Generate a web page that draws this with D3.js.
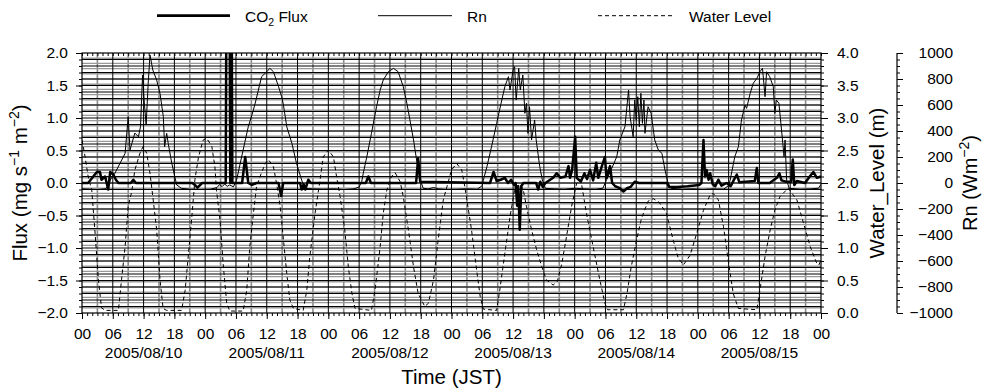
<!DOCTYPE html>
<html lang="en">
<head>
<meta charset="UTF-8">
<title>CO2 Flux, Rn and Water Level</title>
<script src="https://d3js.org/d3.v7.min.js"></script>
<style>
  body { margin: 0; background: #fff; }
  text { font-family: "Liberation Sans", Arial, Helvetica, sans-serif; fill: #000; }
</style>
</head>
<body>
<svg id="chart" width="983" height="390"></svg>
<script>
// hours since 2005/08/10 00:00 JST
const dates = ["2005/08/10", "2005/08/11", "2005/08/12", "2005/08/13", "2005/08/14", "2005/08/15"];
const fluxTicks = [-2, -1.5, -1, -0.5, 0, 0.5, 1, 1.5, 2];
const waterTicks = [0, 0.5, 1, 1.5, 2, 2.5, 3, 3.5, 4];
const rnTicks = [-1000, -800, -600, -400, -200, 0, 200, 400, 600, 800, 1000];

// CO2 flux (mg s-1 m-2)
const flux = [
  [0,0],[1.2,0],[2.2,0.1],[2.9,0.17],[3.5,0.17],[3.8,0.05],[4.5,0.1],[4.9,-0.03],[5.1,-0.1],[5.5,0.17],
  [6.1,0.13],[6.6,0.05],[7.1,0],[9.5,0],[10,0.05],[10.5,0],[21.5,0],[22,-0.03],[22.5,-0.07],[23.4,0],
  [28.0,0],[28.3,6],[28.6,6],[28.9,0],[29.1,4],[29.3,0],[31.2,0],[31.8,0.4],[32.4,0],[33.1,-0.03],
  [34,0],[38.3,0],[38.8,-0.2],[39.2,0],[42.5,0],[42.8,-0.1],[43.2,-0.02],[43.5,-0.1],[44.1,0.05],[44.6,0],
  [55.3,0],[55.8,0.1],[56.3,0],[65.1,0],[65.5,0.38],[65.9,0.02],[79.5,0],[80.2,0.17],[80.8,0.03],[81.6,0.05],
  [82.4,0.08],[83,0],[83.6,0.05],[84.2,-0.03],[84.5,0],[84.8,-0.35],[85.0,-0.05],[85.3,-0.72],[85.6,-0.05],[86,0],
  [88.5,0],[88.9,-0.1],[89.3,0.02],[89.8,-0.06],[90.3,0],[91.8,0.08],[92.5,0.15],[93.2,0.08],[94.2,0.1],[94.8,0.26],
  [95.1,0.08],[95.5,0.2],[96.1,0.71],[96.4,0.08],[97.2,0.02],[97.9,0.15],[98.4,0.06],[99,0.2],[99.6,0.04],[100.2,0.31],
  [100.6,0.08],[101.3,0.26],[101.9,0.4],[102.2,0.08],[102.9,0.26],[103.3,0],[103.9,-0.05],[104.8,-0.08],[105.5,-0.13],[106.2,-0.08],
  [106.9,-0.06],[107.7,0.02],[108.5,0],[114.0,0],[114.4,-0.06],[116,-0.06],[118,-0.05],[120.3,-0.03],[120.7,0],[121.1,0.66],
  [121.4,0.1],[121.7,0.2],[122.1,0.05],[122.4,0.15],[122.9,-0.02],[123.4,-0.05],[124,0.05],[124.6,-0.04],[125.6,0],[126.4,-0.05],
  [127.1,0.06],[127.6,0.13],[128.1,0.01],[131.1,0.03],[131.5,0.23],[131.8,0],[134,0],[135.4,0.08],[135.9,0.15],[136.3,0.04],
  [137.2,0.02],[138.2,0.02],[138.5,0.36],[138.8,-0.03],[139.3,0.03],[140.9,0],[141.8,0.1],[142.5,0.17],[143.2,0.08],[144,0.1]
];

// net radiation Rn (W m-2)
const rn = [
  [0,-45],[1.5,-48],[3,-50],[4.5,-45],[5.2,-20],[5.5,23],[6.4,74],[7.4,151],[8.4,228],[9.0,510],
  [9.35,254],[10.3,384],[11.0,356],[11.4,433],[11.8,830],[12.1,638],[12.5,446],[12.9,767],[13.25,985],[13.8,869],
  [14.55,792],[15.2,690],[15.85,510],[16.1,279],[16.5,382],[16.8,305],[17.5,151],[18.45,-15],[19.4,-41],[21,-48],
  [23,-50],[25,-48],[26.3,-35],[26.8,-12],[27.3,-28],[27.8,-8],[28.3,-25],[28.8,-15],[29.5,-30],[30.1,20],
  [31.4,254],[32.4,433],[33.4,562],[33.9,638],[35,818],[36,856],[36.6,882],[37.3,856],[38.3,741],[38.9,664],
  [39.2,613],[39.9,433],[40.9,305],[41.8,151],[42.8,23],[43.4,-41],[45,-45],[47,-48],[49,-45],[51,-50],
  [53,-45],[54.0,-30],[54.5,10],[54.8,74],[55.5,202],[56.4,382],[57.4,587],[58.1,715],[58.7,792],[59.7,856],
  [60.7,882],[61.6,856],[62.6,741],[63.3,613],[63.9,485],[64.6,331],[65.2,177],[65.9,23],[66.5,-41],[67.5,-45],
  [68.5,-35],[69.5,-45],[71,-50],[73,-48],[75,-45],[77,-48],[78.0,-20],[78.2,20],[78.9,125],[79.8,279],
  [80.8,459],[81.8,638],[82.4,741],[83.1,818],[83.4,715],[84.0,869],[84.3,895],[84.6,638],[85.1,882],[85.4,715],
  [85.9,831],[86.3,536],[86.6,613],[86.9,382],[87.2,587],[87.6,331],[88.2,485],[88.5,331],[89.2,125],[89.7,23],
  [90.3,-41],[92,-45],[94,-48],[96,-40],[98,-45],[100,-48],[101.5,-40],[102.2,23],[103.2,110],[104.2,202],
  [104.8,331],[105.8,433],[106.5,715],[106.8,510],[107.4,356],[107.7,638],[108.0,485],[108.3,664],[108.6,433],[108.9,690],
  [109.2,459],[109.5,638],[109.7,382],[110.3,587],[110.9,536],[111.6,331],[112.3,254],[113.0,228],[113.6,100],[114.2,0],
  [114.8,-41],[117,-48],[119,-45],[121,-50],[123,-45],[125,-48],[126,-20],[126.3,23],[127.2,202],[127.9,279],
  [128.5,485],[129.2,600],[129.5,574],[130.2,690],[130.8,767],[131.5,805],[132.1,856],[132.6,882],[133.1,664],[133.4,856],
  [134.0,818],[134.7,741],[135.0,536],[135.3,638],[135.8,613],[136.5,331],[136.8,202],[137.0,331],[137.3,23],[137.8,-41],
  [140,-48],[142,-45],[143.5,-40],[144,-10]
];

// water level (m)
const water = [
  [0,2.66],[0.5,2.45],[1.2,2.10],[1.9,1.89],[2.5,1.28],[3.2,0.51],[3.8,0.08],[4.5,0.04],[7.1,0.04],[7.7,0.51],
  [8.4,1.02],[9.0,1.64],[9.7,1.87],[10.3,2.2],[11.3,2.46],[11.9,2.56],[12.6,2.46],[13.25,2.15],[13.8,1.79],[14.55,1.28],
  [15.2,0.51],[15.8,0.07],[16.5,0.04],[19.4,0.04],[20.1,0.35],[20.7,0.87],[21.4,1.48],[22.0,2.05],[22.7,2.4],[23.6,2.66],
  [24.3,2.69],[25.3,2.56],[25.9,2.25],[26.2,1.89],[26.9,1.43],[27.5,0.76],[28.2,0.15],[28.8,0.03],[31.4,0.03],[32.1,0.35],
  [32.7,1.02],[33.4,1.53],[34.0,1.94],[34.7,2.10],[35.7,2.30],[36.3,2.36],[37.3,2.25],[37.9,2.0],[38.6,1.65],[39.2,1.17],
  [39.9,0.61],[40.5,0.2],[41.2,0.07],[43.1,0.04],[43.8,0.35],[44.4,0.87],[45.4,1.53],[46.4,2.05],[47.0,2.4],[48.0,2.51],
  [49,2.4],[49.6,2.1],[50.3,1.79],[51.2,1.28],[51.9,0.71],[52.6,0.3],[53.2,0.07],[56.4,0.04],[57.1,0.35],[58.1,1.02],
  [58.7,1.53],[59.4,1.89],[60.3,2.1],[61,2.16],[62,2.02],[62.6,1.79],[63.6,1.28],[64.6,0.71],[65.5,0.3],[66.8,0.1],
  [67.5,0.15],[68.5,0.51],[69.4,1.12],[70.4,1.74],[71.1,1.94],[72.0,2.2],[73.0,2.3],[74,2.2],[74.6,1.94],[75.9,1.28],
  [76.9,0.66],[77.6,0.25],[78.2,0.06],[80.8,0.04],[81.4,0.35],[82.4,0.92],[83.4,1.48],[84.4,1.94],[85.4,1.98],[86,1.89],
  [86.6,1.64],[87.6,1.28],[88.6,0.97],[89.6,0.71],[90.5,0.51],[91.8,0.43],[92.6,0.48],[93.5,0.76],[94.4,1.17],[95.4,1.64],
  [96.4,2.0],[97.2,2.05],[98.3,1.53],[99.6,1.02],[100.9,0.51],[101.9,0.15],[102.4,0.05],[105.5,0.05],[106.2,0.3],[107,0.7],
  [108,1.1],[109,1.45],[110.3,1.72],[111.3,1.76],[112.5,1.7],[113.9,1.53],[115.2,1.12],[116.2,0.84],[117.2,0.74],[118.5,0.89],
  [119.8,1.23],[121.1,1.58],[122.4,1.82],[123,1.84],[124,1.74],[125,1.33],[125.9,0.82],[126.9,0.3],[127.9,0.07],[131.5,0.05],
  [132.1,0.35],[133.1,0.87],[134.1,1.28],[135,1.58],[136,1.79],[137.6,1.92],[139.3,1.74],[140.6,1.38],[141.9,1.02],[143.2,0.76],
  [143.6,0.74],[144,0.82]
];

const pLeft = 82, pRight = 821, pTop = 53, pBottom = 313;

const svg = d3.select("#chart");

const x = d3.scaleLinear().domain([0, 144]).range([pLeft, pRight]);
const yFlux = d3.scaleLinear().domain([-2, 2]).range([pBottom, pTop]);
const yWater = d3.scaleLinear().domain([0, 4]).range([pBottom, pTop]);
const yRn = d3.scaleLinear().domain([-1000, 1000]).range([pBottom, pTop]);

svg.append("defs").append("clipPath").attr("id", "plot")
  .append("rect").attr("x", pLeft).attr("y", pTop)
  .attr("width", pRight - pLeft).attr("height", pBottom - pTop);

// grid: grey minor lines (time every 3 h, Rn every 40), black lines (6 h, flux 0.1)
const grid = svg.append("g");
grid.selectAll(".vg").data(d3.range(3, 144, 6)).enter().append("line")
  .attr("x1", d => x(d)).attr("x2", d => x(d)).attr("y1", pTop).attr("y2", pBottom)
  .attr("stroke", "#8c8c8c").attr("stroke-width", 1.6);
grid.selectAll(".hg").data(d3.range(-960, 1000, 40)).enter().append("line")
  .attr("x1", pLeft).attr("x2", pRight).attr("y1", d => yRn(d)).attr("y2", d => yRn(d))
  .attr("stroke", "#999").attr("stroke-width", 1.4);
grid.selectAll(".vb").data(d3.range(6, 144, 6)).enter().append("line")
  .attr("x1", d => x(d)).attr("x2", d => x(d)).attr("y1", pTop).attr("y2", pBottom)
  .attr("stroke", "#000").attr("stroke-width", 1);
grid.selectAll(".hb").data(d3.range(-19, 20).map(d => d / 10)).enter().append("line")
  .attr("x1", pLeft).attr("x2", pRight).attr("y1", d => yFlux(d)).attr("y2", d => yFlux(d))
  .attr("stroke", "#000").attr("stroke-width", 1);

// series
const series = svg.append("g").attr("clip-path", "url(#plot)");
series.append("path").datum(water)
  .attr("d", d3.line().x(d => x(d[0])).y(d => yWater(d[1])))
  .attr("fill", "none").attr("stroke", "#000").attr("stroke-width", 1)
  .attr("stroke-dasharray", "4,3");
series.append("path").datum(rn)
  .attr("d", d3.line().x(d => x(d[0])).y(d => yRn(d[1])))
  .attr("fill", "none").attr("stroke", "#000").attr("stroke-width", 1);
series.append("path").datum(flux)
  .attr("d", d3.line().x(d => x(d[0])).y(d => yFlux(d[1])))
  .attr("fill", "none").attr("stroke", "#000").attr("stroke-width", 2.5)
  .attr("stroke-linejoin", "round");

svg.append("rect").attr("x", pLeft).attr("y", pTop)
  .attr("width", pRight - pLeft).attr("height", pBottom - pTop)
  .attr("fill", "none").attr("stroke", "#000").attr("stroke-width", 1.2);

// axes
const fmt1 = d3.format(".1f");
function style(g) {
  g.select(".domain").remove();
  g.selectAll("line").attr("stroke", "#000");
  g.selectAll("text").style("font-size", "15.5px");
}

svg.append("g").attr("transform", `translate(${pLeft},0)`)
  .call(d3.axisLeft(yFlux).tickValues(d3.range(-20, 21).map(d => d / 10)).tickSize(3).tickFormat(""))
  .call(style);
svg.append("g").attr("transform", `translate(${pLeft},0)`)
  .call(d3.axisLeft(yFlux).tickValues(fluxTicks).tickSize(6).tickPadding(8).tickFormat(fmt1))
  .call(style);

svg.append("g").attr("transform", `translate(${pRight},0)`)
  .call(d3.axisRight(yWater).tickValues(d3.range(0, 41).map(d => d / 10)).tickSize(3).tickFormat(""))
  .call(style);
svg.append("g").attr("transform", `translate(${pRight},0)`)
  .call(d3.axisRight(yWater).tickValues(waterTicks).tickSize(7).tickPadding(9).tickFormat(fmt1))
  .call(style);

const rnX = 897;
svg.append("line").attr("x1", rnX).attr("x2", rnX).attr("y1", pTop).attr("y2", pBottom)
  .attr("stroke", "#000").attr("stroke-width", 1.2);
svg.append("g").attr("transform", `translate(${rnX},0)`)
  .call(d3.axisRight(yRn).tickValues(d3.range(-1000, 1001, 50)).tickSize(3).tickFormat(""))
  .call(style);
svg.append("g").attr("transform", `translate(${rnX},0)`)
  .call(d3.axisRight(yRn).tickValues(rnTicks).tickSize(6).tickFormat(d3.format("d")))
  .call(style)
  .call(g => g.selectAll("text").attr("x", 56).attr("text-anchor", "end"));

svg.append("g").attr("transform", `translate(0,${pBottom})`)
  .call(d3.axisBottom(x).tickValues(d3.range(0, 145, 1)).tickSize(3).tickFormat(""))
  .call(style);
svg.append("g").attr("transform", `translate(0,${pBottom})`)
  .call(d3.axisBottom(x).tickValues(d3.range(0, 145, 6)).tickSize(6).tickPadding(9)
    .tickFormat(d => d3.format("02d")(d % 24)))
  .call(style);
svg.append("g").attr("transform", `translate(0,${pTop})`)
  .call(d3.axisTop(x).tickValues(d3.range(0, 145, 1)).tickSize(-3).tickFormat(""))
  .call(style);

svg.selectAll(".date").data(dates).enter().append("text")
  .attr("x", (d, i) => x(i * 24 + 12)).attr("y", 357.5)
  .attr("text-anchor", "middle").style("font-size", "15.5px")
  .text(d => d);

// titles
svg.append("text").attr("x", (pLeft + pRight) / 2).attr("y", 384)
  .attr("text-anchor", "middle").style("font-size", "20.5px").text("Time (JST)");

const fluxTitle = svg.append("text")
  .attr("transform", `translate(27,${(pTop + pBottom) / 2}) rotate(-90)`)
  .attr("text-anchor", "middle").style("font-size", "20.5px");
fluxTitle.append("tspan").text("Flux (mg s");
fluxTitle.append("tspan").attr("dy", -8).style("font-size", "14px").text("\u22121");
fluxTitle.append("tspan").attr("dy", 8).text(" m");
fluxTitle.append("tspan").attr("dy", -8).style("font-size", "14px").text("\u22122");
fluxTitle.append("tspan").attr("dy", 8).text(")");

svg.append("text")
  .attr("transform", `translate(884,${(pTop + pBottom) / 2}) rotate(-90)`)
  .attr("text-anchor", "middle").style("font-size", "20.5px").text("Water_Level (m)");

const rnTitle = svg.append("text")
  .attr("transform", `translate(977,${(pTop + pBottom) / 2}) rotate(-90)`)
  .attr("text-anchor", "middle").style("font-size", "20px");
rnTitle.append("tspan").text("Rn (Wm");
rnTitle.append("tspan").attr("dy", -8).style("font-size", "14px").text("\u22122");
rnTitle.append("tspan").attr("dy", 8).text(")");

// legend
const legendY = 15.7;
svg.append("line").attr("x1", 157).attr("x2", 230).attr("y1", legendY).attr("y2", legendY)
  .attr("stroke", "#000").attr("stroke-width", 2.8);
const co2 = svg.append("text").attr("x", 245).attr("y", 21.5).style("font-size", "15.5px");
co2.append("tspan").text("CO");
co2.append("tspan").attr("dy", 4).style("font-size", "10.5px").text("2");
co2.append("tspan").attr("dy", -4).text(" Flux");

svg.append("line").attr("x1", 378).attr("x2", 452).attr("y1", legendY).attr("y2", legendY)
  .attr("stroke", "#000").attr("stroke-width", 1);
svg.append("text").attr("x", 467).attr("y", 21.5).style("font-size", "15.5px").text("Rn");

svg.append("line").attr("x1", 598).attr("x2", 673).attr("y1", legendY).attr("y2", legendY)
  .attr("stroke", "#000").attr("stroke-width", 1).attr("stroke-dasharray", "4,3");
svg.append("text").attr("x", 689).attr("y", 21.5).style("font-size", "15.5px").text("Water Level");
</script>
</body>
</html>
